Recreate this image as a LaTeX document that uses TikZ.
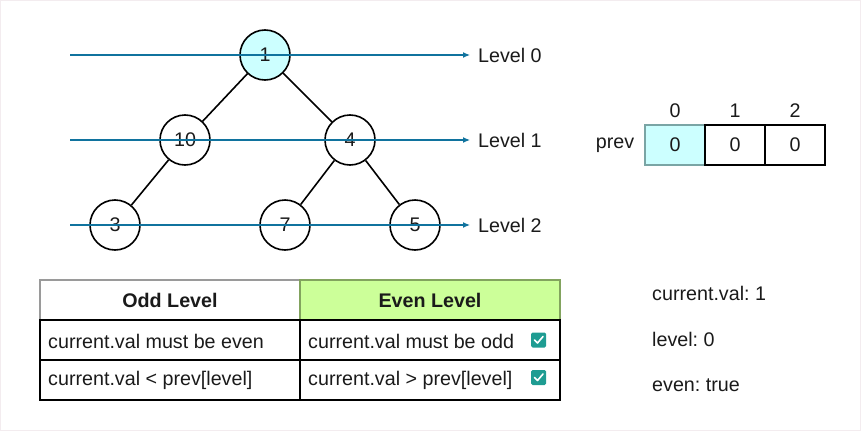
\documentclass[tikz,border=0pt]{standalone}
\usepackage{fontspec}
\setmainfont{Liberation Sans}
\usetikzlibrary{arrows.meta}
\frenchspacing
\definecolor{txt}{HTML}{1A1A1A}
\definecolor{lvlblue}{HTML}{10739E}
\definecolor{cyanfill}{HTML}{CCFFFF}
\definecolor{cyanborder}{HTML}{7AA5A5}
\definecolor{greenfill}{HTML}{CCFF99}
\definecolor{greenborder}{HTML}{82A35E}
\definecolor{grayborder}{HTML}{9A9A9A}
\definecolor{checkteal}{HTML}{1E9C92}
\definecolor{frame}{HTML}{F3ECEF}
\tikzset{
  base/.style={font=\fontsize{19.7}{23}\selectfont, text=txt},
  treenode/.style={base, circle, draw=black, line width=1.6pt, fill=white, minimum size=50pt, inner sep=0pt},
  treeedge/.style={draw=black, line width=1.6pt},
  levelline/.style={draw=lvlblue, line width=1.2pt, -{Latex[length=7pt,width=6pt]}},
  levellabel/.style={base, anchor=west, inner xsep=8pt, inner ysep=0pt},
  arrcell/.style={base, draw=black, line width=1.1pt, minimum width=60pt, minimum height=40pt, inner sep=0pt},
  plain/.style={base, inner sep=0pt},
  tcell/.style={base, draw=black, line width=1.1pt, minimum width=260pt, minimum height=40pt, inner sep=0pt},
  checkbox/.style={fill=checkteal, rounded corners=1.5pt, minimum size=15pt, inner sep=0pt},
  checkmark/.style={white, line width=1.6pt, line cap=round, line join=round},
}
\begin{document}
\begin{tikzpicture}[x=1pt,y=-1pt]
\useasboundingbox (0,0) rectangle (861,431);
\draw[frame, line width=1pt] (0.5,0.5) rectangle (860.5,430.5);

% tree nodes
\node[treenode, fill=cyanfill] (n1) at (265,55) {1};
\node[treenode] (n10) at (185,140) {10};
\node[treenode] (n4) at (350,140) {4};
\node[treenode] (n3) at (115,225) {3};
\node[treenode] (n7) at (285,225) {7};
\node[treenode] (n5) at (415,225) {5};
\path[treeedge] (n1) -- (n10);
\path[treeedge] (n1) -- (n4);
\path[treeedge] (n10) -- (n3);
\path[treeedge] (n4) -- (n7);
\path[treeedge] (n4) -- (n5);

% level lines
\coordinate (s0) at (70,55);
\coordinate (s1) at (70,140);
\coordinate (s2) at (70,225);
\node[levellabel] (l0) at (470,55) {Level 0};
\node[levellabel] (l1) at (470,140) {Level 1};
\node[levellabel] (l2) at (470,225) {Level 2};
\draw[levelline] (s0) -- (l0.west);
\draw[levelline] (s1) -- (l1.west);
\draw[levelline] (s2) -- (l2.west);

% prev array
\node[arrcell, fill=cyanfill, draw=cyanborder] (c0) at (675,145) {0};
\node[arrcell] (c1) at (735,145) {0};
\node[arrcell] (c2) at (795,145) {0};
\node[plain] (i0) at (675,111) {0};
\node[plain] (i1) at (735,111) {1};
\node[plain] (i2) at (795,111) {2};
\node[plain] (prev) at (615,145) {prev};

% table
\node[tcell, draw=grayborder, font=\fontsize{19.7}{23}\selectfont\bfseries] (hodd) at (170,300) {Odd Level};
\node[tcell, draw=greenborder, fill=greenfill, font=\fontsize{19.7}{23}\selectfont\bfseries] (heven) at (430,300) {Even Level};
\node[tcell] (r1a) at (170,340) {};
\node[tcell] (r1b) at (430,340) {};
\node[tcell] (r2a) at (170,380) {};
\node[tcell] (r2b) at (430,380) {};
\node[plain, anchor=west] (t1a) at (48,341) {current.val must be even};
\node[plain, anchor=west] (t1b) at (308,341) {current.val must be odd};
\node[plain, anchor=west] (t2a) at (48,380) {current.val < prev[level]};
\node[plain, anchor=west] (t2b) at (308,380) {current.val > prev[level]};
\node[checkbox] (cb1) at (538.5,340) {};
\node[checkbox] (cb2) at (538.5,377.5) {};
\draw[checkmark]
  ([shift={(-4pt,0pt)}]cb1.center) -- ([shift={(-1pt,-3pt)}]cb1.center) -- ([shift={(4.5pt,3.5pt)}]cb1.center);
\draw[checkmark]
  ([shift={(-4pt,0pt)}]cb2.center) -- ([shift={(-1pt,-3pt)}]cb2.center) -- ([shift={(4.5pt,3.5pt)}]cb2.center);

% state
\node[plain, anchor=west] (sv) at (652,293) {current.val: 1};
\node[plain, anchor=west] (sl) at (652,339) {level: 0};
\node[plain, anchor=west] (se) at (652,385) {even: true};
\end{tikzpicture}
\end{document}
